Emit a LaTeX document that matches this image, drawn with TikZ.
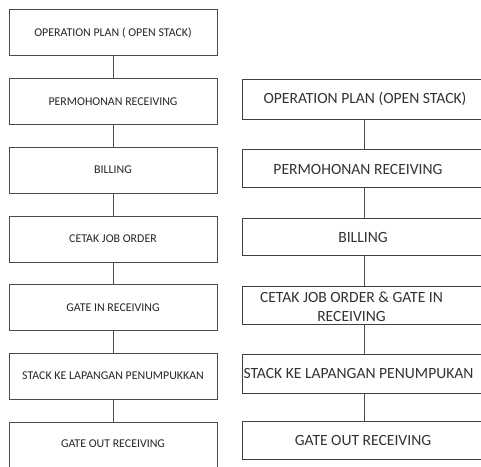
\documentclass[tikz,border=0pt]{standalone}
\usepackage{fontspec}
\setmainfont{Carlito}
\usetikzlibrary{calc}
\begin{document}
\begin{tikzpicture}[x=1pt,y=-1pt,
  lbox/.style={draw=black!70,line width=1pt,minimum width=208pt,minimum height=46pt,inner sep=0pt},
  ltext/.style={font=\fontsize{11.9}{13}\selectfont,text=black!85},
  rbox/.style={draw=black!75,line width=0.8pt,minimum width=258pt,inner sep=0pt},
  rtext/.style={font=\fontsize{15.6}{19}\selectfont,text=black!80,inner sep=0pt,align=center},
  lconn/.style={draw=black!70,line width=1pt},
  rconn/.style={draw=black!70,line width=0.7pt}]
\useasboundingbox (0,0) rectangle (481,466);
\clip (0,0) rectangle (481,466);
\fill[white] (0,0) rectangle (481,466);

% left column: the detailed sequence
\node[lbox,ltext] (l1) at (113,32.5) {OPERATION PLAN ( OPEN STACK)};
\node[lbox,ltext] (l2) at (113,101.5) {PERMOHONAN RECEIVING};
\node[lbox,ltext] (l3) at (113,170) {BILLING};
\node[lbox,ltext] (l4) at (113,239) {CETAK JOB ORDER};
\node[lbox,ltext] (l5) at (113,307.5) {GATE IN RECEIVING};
\node[lbox,ltext] (l6) at (113,376) {STACK KE LAPANGAN PENUMPUKKAN};
\node[lbox,minimum height=48pt] (l7) at (113,446) {};
\node[ltext] (l7t) at (113,444) {GATE OUT RECEIVING};
\foreach \a/\b in {l1/l2,l2/l3,l3/l4,l4/l5,l5/l6,l6/l7}
  \draw[lconn] (\a.south) -- (\b.north);

% right column: the merged sequence
\node[rbox,minimum height=40pt] (r1) at (371,99) {};
\node[rbox,minimum height=38pt] (r2) at (371,168) {};
\node[rbox,minimum height=37pt] (r3) at (371,236.5) {};
\node[rbox,minimum height=38pt] (r4) at (371,305) {};
\node[rbox,minimum height=39pt] (r5) at (371,373.5) {};
\node[rbox,minimum height=38pt] (r6) at (371,440) {};

\node[rtext] (r1t) at (365,99) {OPERATION PLAN (OPEN STACK)};
\node[rtext] (r2t) at (358,169) {PERMOHONAN RECEIVING};
\node[rtext] (r3t) at (363,237) {BILLING};
\node[rtext] (r4t) at (351.5,306.5) {CETAK JOB ORDER \& GATE IN\\RECEIVING};
\node[rtext] (r5t) at (358.5,373) {STACK KE LAPANGAN PENUMPUKAN};
\node[rtext] (r6t) at (363,440) {GATE OUT RECEIVING};

\foreach \a/\b in {r1/r2,r2/r3,r3/r4,r4/r5,r5/r6}
  \draw[rconn] ($(\a.south)+(-7,0)$) -- ($(\b.north)+(-7,0)$);
\end{tikzpicture}
\end{document}
